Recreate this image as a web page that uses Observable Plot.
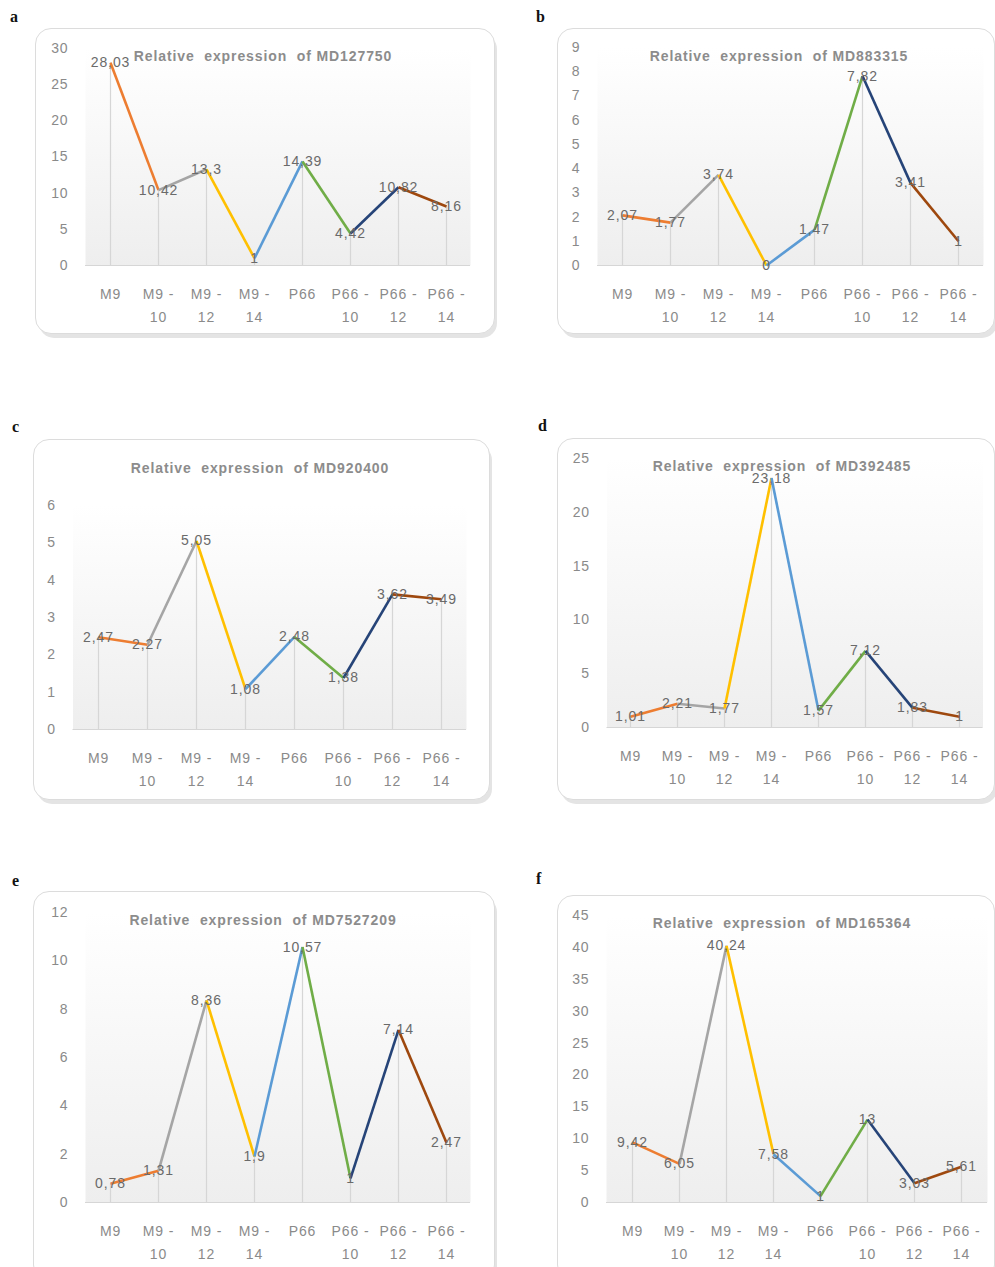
<!DOCTYPE html>
<html><head><meta charset="utf-8">
<script src="https://cdn.jsdelivr.net/npm/d3@7"></script>
<script src="https://cdn.jsdelivr.net/npm/@observablehq/plot@0.6"></script>
<style>
html,body{margin:0;padding:0;background:#fff;}
body{width:995px;height:1267px;position:relative;overflow:hidden;font-family:"Liberation Sans",Arial,sans-serif;}
.box{position:absolute;box-sizing:border-box;border:1.5px solid #dcdcdc;border-radius:16px;box-shadow:3px 5px 0 -1px #e4e4e4;background:#fff;}
.letter{position:absolute;font:bold 16px "Liberation Serif","DejaVu Serif",serif;color:#111;}
.title{position:absolute;transform:translate(-50%,-50%);font:bold 14px "Liberation Sans",Arial,sans-serif;color:#8c8c8c;white-space:pre;letter-spacing:0.9px;}
.wrap{position:absolute;}
.wrap svg text{letter-spacing:0.9px;}
</style>
</head><body>
<script>
// ---- data ----
const categories = ["M9","M9 - 10","M9 - 12","M9 - 14","P66","P66 - 10","P66 - 12","P66 - 14"];
const tickLabels = ["M9","M9 -\n10","M9 -\n12","M9 -\n14","P66","P66 -\n10","P66 -\n12","P66 -\n14"];
const segmentColors = ["#ED7D31","#A5A5A5","#FFC000","#5B9BD5","#70AD47","#264478","#9E480E"];
const panelLetters = ["a","b","c","d","e","f"];
const titles = [
  "Relative  expression  of MD127750",
  "Relative  expression  of MD883315",
  "Relative  expression  of MD920400",
  "Relative  expression  of MD392485",
  "Relative  expression  of MD7527209",
  "Relative  expression  of MD165364"
];
const valuesA = [28.03,10.42,13.3,1,14.39,4.42,10.82,8.16];
const valuesB = [2.07,1.77,3.74,0,1.47,7.82,3.41,1];
const valuesC = [2.47,2.27,5.05,1.08,2.48,1.38,3.62,3.49];
const valuesD = [1.01,2.21,1.77,23.18,1.57,7.12,1.83,1];
const valuesE = [0.78,1.31,8.36,1.9,10.57,1,7.14,2.47];
const valuesF = [9.42,6.05,40.24,7.58,1,13,3.03,5.61];
const yMaxes = [30,9,6,25,12,45];
const ySteps = [5,1,1,5,2,5];
const seriesValues = [valuesA,valuesB,valuesC,valuesD,valuesE,valuesF];

// ---- layout (page pixels) ----
const layout = [
  {box:[35,28,460,306],  area:[85,470,48,265],    title:[263,56],  letter:[10,8]},
  {box:[557,28,438,306], area:[597,983,47,265],   title:[779,56],  letter:[536,8]},
  {box:[33,439,457,361], area:[72.5,466,505,729], title:[260,468], letter:[12,418]},
  {box:[557,438,438,362],area:[606.5,982.5,458,727],title:[782,466],letter:[538,417]},
  {box:[33,891,462,390], area:[85,470,912,1202],  title:[263,920], letter:[12,872]},
  {box:[557,895,438,386],area:[606,987,915,1202], title:[782,923], letter:[536,870]}
];

const fmt = v => String(v).replace(".", ",");

layout.forEach((L, k) => {
  const [bl, bt, bw, bh] = L.box;
  const [ax0, ax1, ayT, ayB] = L.area;
  const box = document.createElement("div");
  box.className = "box";
  Object.assign(box.style, {left: bl+"px", top: bt+"px", width: bw+"px", height: bh+"px"});
  document.body.appendChild(box);

  const letter = document.createElement("div");
  letter.className = "letter";
  letter.textContent = panelLetters[k];
  Object.assign(letter.style, {left: L.letter[0]+"px", top: L.letter[1]+"px"});
  document.body.appendChild(letter);

  const vals = seriesValues[k];
  const pts = categories.map((c, i) => ({cat: c, v: vals[i], label: fmt(vals[i])}));
  const segs = d3.pairs(pts).map(([a, b], i) => ({x1: a.cat, y1: a.v, x2: b.cat, y2: b.v, color: segmentColors[i]}));
  const yMax = yMaxes[k], step = ySteps[k];
  const gid = "grad" + k;

  const chart = Plot.plot({
    width: bw, height: bh,
    marginLeft: ax0 - bl, marginRight: bl + bw - ax1,
    marginTop: ayT - bt, marginBottom: bt + bh - ayB,
    style: {fontSize: "14px", fontFamily: "'Liberation Sans', Arial, sans-serif", color: "#8a8a8a", overflow: "visible"},
    x: {type: "point", domain: categories, padding: 0.5},
    y: {domain: [0, yMax]},
    color: {type: "identity"},
    marks: [
      () => {
        const defs = d3.create("svg:defs");
        const g = defs.append("linearGradient").attr("id", gid).attr("x1", 0).attr("y1", 0).attr("x2", 0).attr("y2", 1);
        g.append("stop").attr("offset", "0%").attr("stop-color", "#ffffff");
        g.append("stop").attr("offset", "100%").attr("stop-color", "#eeeeee");
        return defs.node();
      },
      Plot.frame({fill: `url(#${gid})`, stroke: "none"}),
      Plot.ruleX(pts, {x: "cat", y1: 0, y2: "v", stroke: "#d6d6d6", strokeWidth: 1.2}),
      Plot.ruleY([0], {stroke: "#d6d6d6", strokeWidth: 1.2}),
      Plot.link(segs, {x1: "x1", y1: "y1", x2: "x2", y2: "y2", stroke: "color", strokeWidth: 2.6}),
      Plot.text(pts, {x: "cat", y: "v", text: "label", fill: "#6a6a6a", fontSize: 14}),
      Plot.axisY({ticks: d3.range(0, yMax + step / 2, step), tickFormat: d => String(d), tickSize: 0, tickPadding: 17, fill: "#8a8a8a"}),
      Plot.axisX({tickSize: 0, tickPadding: 17, lineHeight: 1.65, fill: "#8a8a8a",
        tickFormat: d => tickLabels[categories.indexOf(d)]})
    ]
  });
  const wrap = document.createElement("div");
  wrap.className = "wrap";
  Object.assign(wrap.style, {left: bl+"px", top: bt+"px"});
  wrap.appendChild(chart);
  document.body.appendChild(wrap);

  const title = document.createElement("div");
  title.className = "title";
  title.textContent = titles[k];
  Object.assign(title.style, {left: L.title[0]+"px", top: L.title[1]+"px"});
  document.body.appendChild(title);
});
</script>
</body></html>
